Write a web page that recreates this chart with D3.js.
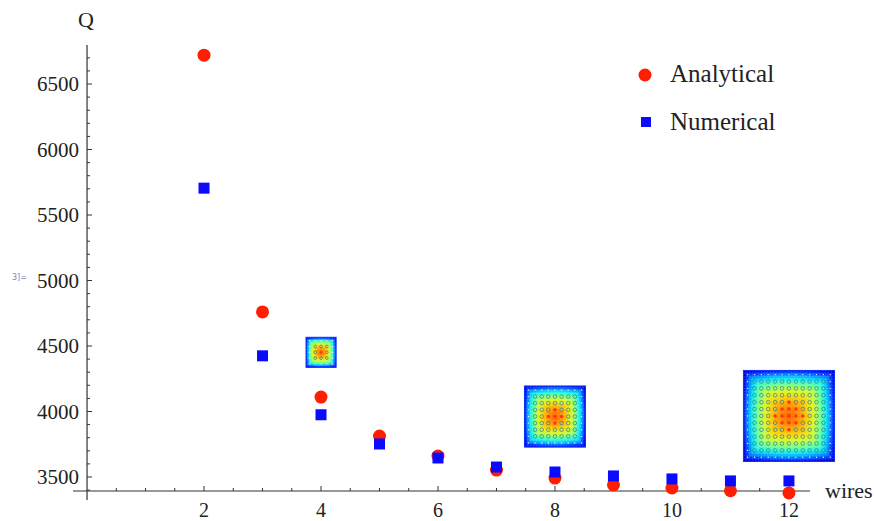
<!DOCTYPE html>
<html>
<head>
<meta charset="utf-8">
<script src="https://cdn.jsdelivr.net/npm/d3@7"></script>
<style>
  html, body { margin: 0; padding: 0; background: #fff; }
  svg text { font-family: "Liberation Serif", "Times New Roman", serif; fill: #222; }
</style>
</head>
<body>
<svg id="chart" width="874" height="521"></svg>
<script>
// ---- data ----
const wires      = [2, 3, 4, 5, 6, 7, 8, 9, 10, 11, 12];
const analytical = [6720, 4760, 4110, 3813, 3660, 3553, 3492, 3440, 3416, 3395, 3378];
const numerical  = [5705, 4425, 3975, 3752, 3645, 3576, 3538, 3508, 3485, 3470, 3470];
const xTickLabels = [2, 4, 6, 8, 10, 12];
const yTickLabels = [3500, 4000, 4500, 5000, 5500, 6000, 6500];
const seriesNames = ["Analytical", "Numerical"];
// inset field maps: wire position, Q position, grid points per side
const insetX = [4, 8, 12];
const insetQ = [4452, 3962, 3966];
const insetGrid = [5, 9, 13];

const svg = d3.select("#chart");

const x = d3.scaleLinear().domain([-0.24, 12.36]).range([73, 810]);
const y = d3.scaleLinear().domain([3393, 6798]).range([491, 45]);
const axisColor = "#333";

// ---- axes ----
const g = svg.append("g");
g.append("line").attr("x1", x(-0.24)).attr("x2", x(12.36))
  .attr("y1", y(3393)).attr("y2", y(3393))
  .attr("stroke", axisColor).attr("stroke-width", 1.2);
g.append("line").attr("x1", x(0)).attr("x2", x(0))
  .attr("y1", y(6798)).attr("y2", y(3325))
  .attr("stroke", axisColor).attr("stroke-width", 1.2);

const xMinor = d3.range(0.5, 12.01, 0.5);
g.selectAll(".xt").data(xMinor).join("line")
  .attr("x1", d => x(d)).attr("x2", d => x(d))
  .attr("y1", y(3393)).attr("y2", d => y(3393) - (d % 2 === 0 ? 5 : 3))
  .attr("stroke", axisColor).attr("stroke-width", 1);
g.selectAll(".xl").data(xTickLabels).join("text")
  .attr("x", d => x(d)).attr("y", 517)
  .attr("text-anchor", "middle").attr("font-size", 20)
  .text(d => d);

const yMinor = d3.range(3400, 6701, 100);
g.selectAll(".yt").data(yMinor).join("line")
  .attr("x1", x(0)).attr("x2", d => x(0) + (d % 500 === 0 ? 5 : 3))
  .attr("y1", d => y(d)).attr("y2", d => y(d))
  .attr("stroke", axisColor).attr("stroke-width", 1);
g.selectAll(".yl").data(yTickLabels).join("text")
  .attr("x", 79).attr("y", d => y(d)).attr("dy", "0.35em")
  .attr("text-anchor", "end").attr("font-size", 21)
  .text(d => d);

svg.append("text").attr("x", 86).attr("y", 27).attr("text-anchor", "middle")
  .attr("font-size", 22).text("Q");
svg.append("text").attr("x", 825).attr("y", 498).attr("font-size", 22).text("wires");
svg.append("text").attr("x", 12).attr("y", 280).attr("font-size", 8)
  .style("fill", "#7a82b8").style("font-family", "DejaVu Sans, sans-serif").text("3]=");

// ---- inset field maps ----
const jet = d3.interpolateRgbBasis(["#0000a0", "#0000ff", "#0080ff", "#00ffff", "#80ff80", "#ffff00", "#ff8000", "#ff0000"]);
const insetSize = [30, 61, 91];
insetX.forEach((wx, i) => {
  const s = insetSize[i];
  const cx = x(wx), cy = y(insetQ[i]);
  const ig = svg.append("g").attr("transform", `translate(${cx - s / 2},${cy - s / 2})`);
  const nc = Math.round(s / 1.5);
  const cs = s / nc;
  const cells = [];
  for (let a = 0; a < nc; a++) for (let b = 0; b < nc; b++) {
    const u = (a + 0.5) / nc * 2 - 1, v = (b + 0.5) / nc * 2 - 1;
    const r = Math.sqrt(u * u + v * v) / Math.SQRT2;
    const edge = Math.max(Math.abs(u), Math.abs(v));
    const f = Math.max(0, 1 - 0.45 * r - 0.6 * Math.pow(edge, 3));
    cells.push({a, b, f});
  }
  ig.selectAll("rect").data(cells).join("rect")
    .attr("x", d => d.a * cs).attr("y", d => d.b * cs)
    .attr("width", cs + 0.3).attr("height", cs + 0.3)
    .attr("fill", d => jet(0.08 + 0.82 * d.f));
  ig.append("rect").attr("width", s).attr("height", s).attr("fill", "none")
    .attr("stroke", "#1030ff").attr("stroke-width", 1);
  const n = insetGrid[i];
  const pts = [];
  const step = s / (n + 0.2);
  for (let a = 0; a < n; a++) for (let b = 0; b < n; b++) {
    const edge = (a === 0 || b === 0 || a === n - 1 || b === n - 1);
    const u = (a - (n - 1) / 2) / ((n - 1) / 2), v = (b - (n - 1) / 2) / ((n - 1) / 2);
    pts.push({px: step * 0.6 + a * step, py: step * 0.6 + b * step, edge, r: Math.abs(u) + Math.abs(v)});
  }
  ig.selectAll("circle").data(pts).join("circle")
    .attr("cx", d => d.px).attr("cy", d => d.py)
    .attr("r", d => d.edge ? 0.7 : (i === 0 ? 1.4 : 1.8))
    .attr("fill", d => d.edge ? "#e8f0ff" : (d.r < 0.45 ? "#ff3a00" : "none"))
    .attr("stroke", d => d.edge ? "none" : (d.r < 0.45 ? "none" : "#2a7a90"))
    .attr("stroke-width", 0.7);
});

// ---- data marks ----
const red = "#ff1e00", blue = "#0a0aff";
const pts = wires.map((w, i) => ({w, a: analytical[i], n: numerical[i]}));
svg.append("g").selectAll("circle").data(pts).join("circle")
  .attr("cx", d => x(d.w)).attr("cy", d => y(d.a)).attr("r", 6.5)
  .attr("fill", red);
svg.append("g").selectAll("rect").data(pts).join("rect")
  .attr("x", d => x(d.w) - 5.5).attr("y", d => y(d.n) - 5.5)
  .attr("width", 11).attr("height", 11)
  .attr("fill", blue);

// ---- legend ----
const lg = svg.append("g");
lg.append("circle").attr("cx", 645).attr("cy", 75).attr("r", 6.5).attr("fill", red);
lg.append("rect").attr("x", 641).attr("y", 117).attr("width", 10).attr("height", 10).attr("fill", blue);
lg.append("text").attr("x", 670).attr("y", 82).attr("font-size", 25).text(seriesNames[0]);
lg.append("text").attr("x", 670).attr("y", 130).attr("font-size", 25).text(seriesNames[1]);
</script>
</body>
</html>
